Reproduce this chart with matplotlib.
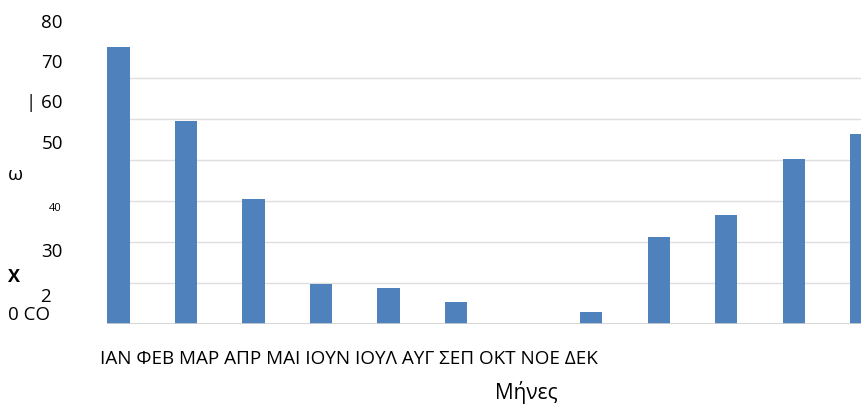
import numpy as np
import matplotlib
matplotlib.use('Agg')
import matplotlib.pyplot as plt

plt.rcParams['font.family'] = ['Open Sans', 'DejaVu Sans']

# --------------------------------------------------
# data
# --------------------------------------------------
months = ['ΙΑΝ', 'ΦΕΒ', 'ΜΑΡ', 'ΑΠΡ', 'ΜΑΙ', 'ΙΟΥΝ', 'ΙΟΥΛ', 'ΑΥΓ', 'ΣΕΠ', 'ΟΚΤ', 'ΝΟΕ', 'ΔΕΚ']
values = [67.4, 49.4, 30.4, 9.6, 8.7, 5.2, 0.0, 2.8, 21.1, 26.5, 40.1, 46.2]
grid_vals = [10, 20, 30, 40, 50, 60]
# the (scrambled) y labels as they appear on the left
ylab_texts = ['80', '70', '| 60', '50', '40', '30', '2']
ylab_ypix = [23, 63, 103, 144, 208, 252, 297]
ylab_xpix = [63, 63, 63, 63, 62, 63, 51]
ylab_size = [13.5, 13.5, 13.5, 13.5, 8, 13.5, 13.5]
xlabel = 'Μήνες'

W, H = 862, 405
fig = plt.figure(figsize=(W / 100, H / 100), dpi=100)

# axes box in pixels
left, right, base, top = 107, 862, 323.5, 40
ax = fig.add_axes([left / W, (H - base) / H, (right - left) / W, (base - top) / H])

x = np.arange(len(values))
ax.bar(x, values, width=0.33, color='#4f81bd', zorder=3)
ax.set_xlim(-0.17, 11.01)
ax.set_ylim(0, (base - top) / 4.1)

ax.set_yticks(grid_vals)
ax.grid(axis='y', color='#dedede', lw=1, zorder=0)
ax.axhline(0, color='#d0d0d0', lw=1.2, zorder=4)
ax.set_xticks([])
ax.tick_params(left=False, labelleft=False)
for s in ax.spines.values():
    s.set_visible(False)


def fx(px):
    return px / W


def fy(py):
    return 1 - py / H


# left side labels
for t, xp, yp, fs in zip(ylab_texts, ylab_xpix, ylab_ypix, ylab_size):
    fig.text(fx(xp), fy(yp), t, ha='right', va='center', fontsize=fs)
fig.text(fx(8), fy(175), 'ω', ha='left', va='center', fontsize=14)
fig.text(fx(8), fy(277), 'X', ha='left', va='center', fontsize=13, fontweight='bold')
fig.text(fx(8), fy(315), '0 CO', ha='left', va='center', fontsize=13.5)

# month names as one line under the plot
fig.text(fx(100), fy(359), ' '.join(months), ha='left', va='center', fontsize=13.6)
fig.text(fx(526), fy(392), xlabel, ha='center', va='center', fontsize=15)

fig.savefig('out.png', dpi=100)
